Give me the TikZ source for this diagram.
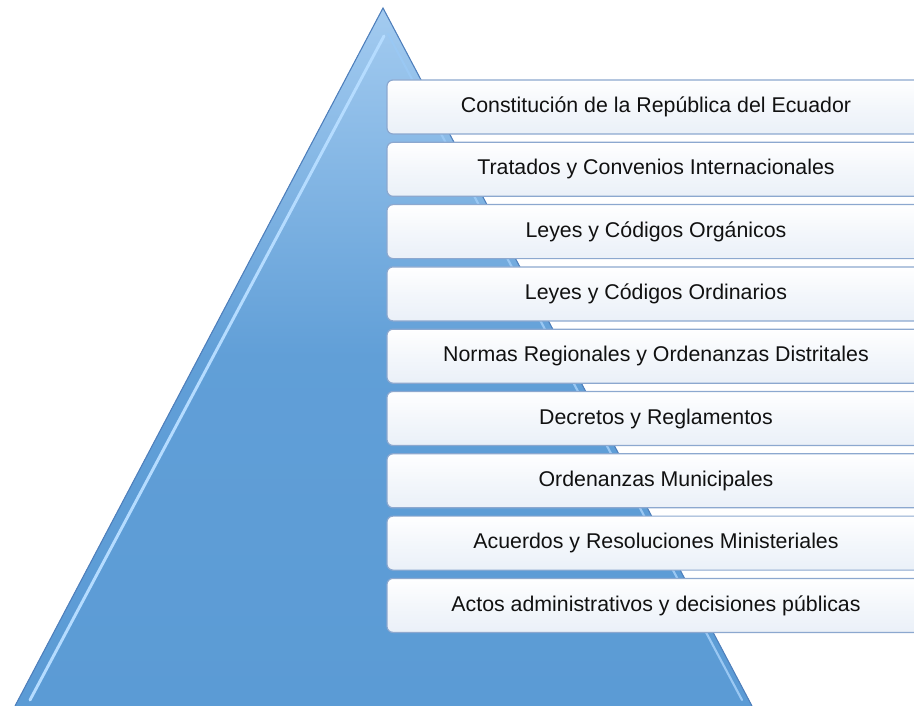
\documentclass[tikz,border=0pt]{standalone}
\usepackage{fontspec}
\setmainfont{Liberation Sans}
\definecolor{triTop}{HTML}{A3CBF0}
\definecolor{triBot}{HTML}{5B9BD5}
\definecolor{triEdge}{HTML}{4F80BD}
\definecolor{triHi}{HTML}{B5DCFF}
\definecolor{boxEdge}{HTML}{8CA8CF}
\definecolor{boxFill}{HTML}{EAF0F8}
\definecolor{txt}{HTML}{111111}
\tikzset{
  levelbox/.style={draw=boxEdge, line width=0.9pt, rounded corners=4.5pt,
    top color=white, bottom color=boxFill, middle color=boxFill!55!white,
    minimum width=403.5pt, minimum height=40.5pt, inner sep=0pt,
    font=\fontsize{16}{19}\selectfont, text=txt},
}
\begin{document}
\begin{tikzpicture}[x=0.75pt,y=-0.75pt]
\useasboundingbox (0,0) rectangle (914,706);
\clip (0,0) rectangle (914,706);
% pyramid
\coordinate (apex) at (383,8);
\coordinate (bl) at (15,706);
\coordinate (br) at (752,706);
\fill[top color=triTop, bottom color=triBot, middle color=triBot!92!triTop]
  (apex) -- (br) -- (bl) -- cycle;
\draw[triEdge, line width=0.8pt] (bl) -- (apex) -- (br);
\draw[triHi, line width=2.2pt, line cap=round] (384,36) -- (30,700);
\draw[triHi!70!triBot, line width=1.6pt, line cap=round] (388,34) -- (742,700);
% levels
\foreach \i/\t in {0/{Constitución de la República del Ecuador},
  1/{Tratados y Convenios Internacionales},
  2/{Leyes y Códigos Orgánicos},
  3/{Leyes y Códigos Ordinarios},
  4/{Normas Regionales y Ordenanzas Distritales},
  5/{Decretos y Reglamentos},
  6/{Ordenanzas Municipales},
  7/{Acuerdos y Resoluciones Ministeriales},
  8/{Actos administrativos y decisiones públicas}}{
  \node[levelbox] (lvl\i) at (656,{107+62.3*\i}) {\t};
}
\end{tikzpicture}
\end{document}
